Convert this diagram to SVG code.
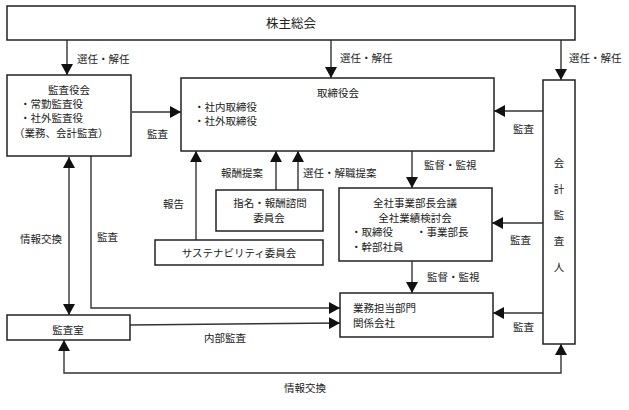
<svg xmlns="http://www.w3.org/2000/svg" width="629" height="410" viewBox="0 0 629 410">
<defs>
<marker id="ah" markerUnits="userSpaceOnUse" markerWidth="12" markerHeight="12" refX="11" refY="6" orient="auto-start-reverse" viewBox="0 0 12 12">
<path d="M0,0 L11,6 L0,12 z" fill="#111"/>
</marker>
<style>
.box{fill:#fff;stroke:#222;stroke-width:1.5}
.t{font-family:"Noto Sans CJK JP","Noto Sans CJK SC",sans-serif;font-size:10.5px;fill:#222}
.c{text-anchor:middle}
.ln{fill:none;stroke:#333;stroke-width:1.4}
.ar{marker-end:url(#ah)}
.ar2{marker-start:url(#ah);marker-end:url(#ah)}
</style>
</defs>
<rect width="629" height="410" fill="#fff"/>

<g id="connectors">
<line class="ln ar" x1="67" y1="40" x2="67" y2="75"/>
<line class="ln ar" x1="331" y1="40" x2="331" y2="78"/>
<line class="ln ar" x1="561" y1="40" x2="561" y2="80"/>
<line class="ln ar" x1="132" y1="112" x2="181" y2="112"/>
<line class="ln ar" x1="543" y1="111" x2="494" y2="111"/>
<line class="ln ar" x1="196" y1="240" x2="196" y2="151"/>
<line class="ln ar" x1="276" y1="190" x2="276" y2="151"/>
<line class="ln ar" x1="298" y1="190" x2="298" y2="151"/>
<line class="ln ar" x1="412" y1="151" x2="412" y2="188"/>
<line class="ln ar" x1="543" y1="223" x2="492" y2="223"/>
<line class="ln ar" x1="412" y1="261" x2="412" y2="293"/>
<line class="ln ar" x1="543" y1="313" x2="493" y2="313"/>
<path class="ln ar" d="M91,156 V308 H340"/>
<path class="ln ar" d="M130,325 L340,323"/>
<line class="ln ar2" x1="69" y1="157" x2="69" y2="315"/>
<path class="ln ar2" d="M561,344 V373 H64 V340"/>
</g>

<g id="shareholders">
<rect class="box" x="7" y="6" width="568" height="34"/>
<text class="t c" x="291" y="28" style="font-size:12.5px">株主総会</text>
</g>

<g id="kansayakukai">
<rect class="box" x="7" y="75" width="124" height="81"/>
<text class="t" x="48" y="94">監査役会</text>
<text class="t" x="20" y="108">・常勤監査役</text>
<text class="t" x="20" y="122">・社外監査役</text>
<text class="t" x="14" y="137">（業務、会計監査）</text>
</g>

<g id="torishimariyakukai">
<rect class="box" x="181" y="78" width="313" height="73"/>
<text class="t" x="317" y="97">取締役会</text>
<text class="t" x="194" y="111">・社内取締役</text>
<text class="t" x="194" y="125">・社外取締役</text>
</g>

<g id="kaikeikansanin">
<rect class="box" x="543" y="80" width="32" height="264"/>
<text class="t c" x="559" y="167">会</text>
<text class="t c" x="559" y="193">計</text>
<text class="t c" x="559" y="219">監</text>
<text class="t c" x="559" y="245">査</text>
<text class="t c" x="559" y="271">人</text>
</g>

<g id="shimei">
<rect class="box" x="216" y="190" width="107" height="41"/>
<text class="t c" x="270" y="207">指名・報酬諮問</text>
<text class="t c" x="269" y="222">委員会</text>
</g>

<g id="sustainability">
<rect class="box" x="155" y="240" width="168" height="25"/>
<text class="t c" x="239" y="257">サステナビリティ委員会</text>
</g>

<g id="zensha">
<rect class="box" x="339" y="188" width="153" height="73"/>
<text class="t c" x="415" y="207">全社事業部長会議</text>
<text class="t c" x="415" y="222">全社業績検討会</text>
<text class="t" x="351" y="236">・取締役</text>
<text class="t" x="416" y="236">・事業部長</text>
<text class="t" x="351" y="251">・幹部社員</text>
</g>

<g id="gyomu">
<rect class="box" x="340" y="293" width="153" height="44"/>
<text class="t" x="353" y="312">業務担当部門</text>
<text class="t" x="353" y="327">関係会社</text>
</g>

<g id="kansashitsu">
<rect class="box" x="7" y="315" width="123" height="25"/>
<text class="t c" x="68" y="334">監査室</text>
</g>

<g id="labels">
<text class="t" x="77" y="63">選任・解任</text>
<text class="t" x="340" y="62">選任・解任</text>
<text class="t" x="569" y="62">選任・解任</text>
<text class="t" x="147" y="138">監査</text>
<text class="t" x="513" y="133">監査</text>
<text class="t" x="221" y="177">報酬提案</text>
<text class="t" x="303" y="177">選任・解職提案</text>
<text class="t" x="163" y="208">報告</text>
<text class="t" x="20" y="243">情報交換</text>
<text class="t" x="97" y="241">監査</text>
<text class="t" x="424" y="169">監督・監視</text>
<text class="t" x="510" y="244">監査</text>
<text class="t" x="427" y="281">監督・監視</text>
<text class="t" x="513" y="331">監査</text>
<text class="t" x="204" y="342">内部監査</text>
<text class="t c" x="305" y="392">情報交換</text>
</g>
</svg>
